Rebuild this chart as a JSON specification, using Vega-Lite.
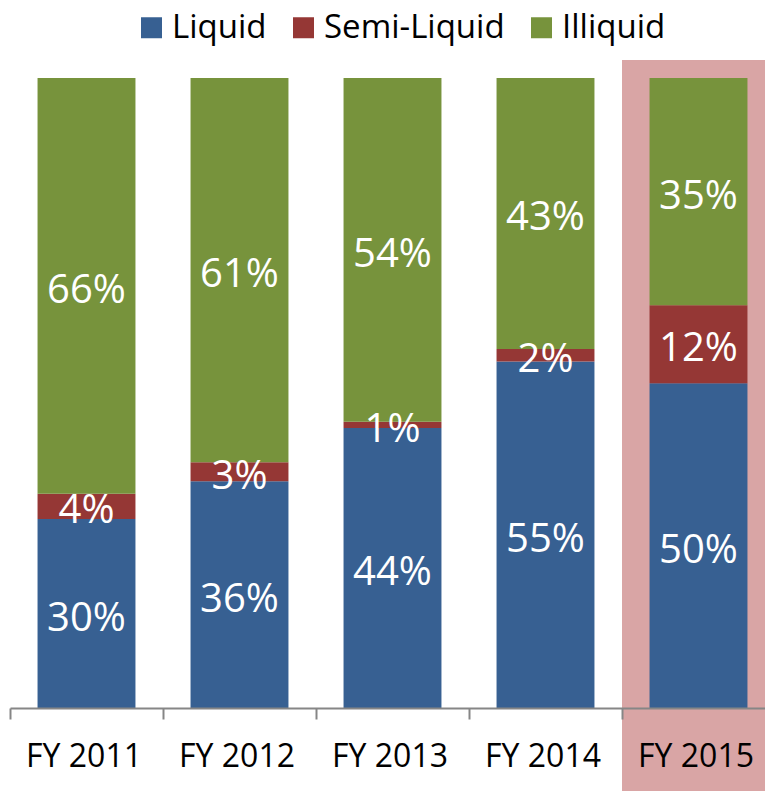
{
  "$schema": "https://vega.github.io/schema/vega-lite/v6.json",
  "width": 755,
  "height": 630,
  "autosize": {"type": "none"},
  "padding": {"left": 10, "top": 78, "right": 0, "bottom": 83},
  "background": "white",
  "config": {
    "font": "Open Sans",
    "view": {"stroke": null},
    "legend": {
      "orient": "none",
      "legendX": 125,
      "legendY": -67,
      "direction": "horizontal",
      "symbolType": "square",
      "symbolSize": 441,
      "symbolStrokeWidth": 0,
      "labelFontSize": 33,
      "labelFont": "Open Sans",
      "labelColor": "black",
      "labelOffset": 4,
      "columnPadding": 20,
      "labelLimit": 400,
      "padding": 0
    }
  },
  "data": {
    "values": [
      {"year": "FY 2011", "type": "Liquid", "value": 0.30},
      {"year": "FY 2011", "type": "Semi-Liquid", "value": 0.04},
      {"year": "FY 2011", "type": "Illiquid", "value": 0.66},
      {"year": "FY 2012", "type": "Liquid", "value": 0.36},
      {"year": "FY 2012", "type": "Semi-Liquid", "value": 0.03},
      {"year": "FY 2012", "type": "Illiquid", "value": 0.61},
      {"year": "FY 2013", "type": "Liquid", "value": 0.44},
      {"year": "FY 2013", "type": "Semi-Liquid", "value": 0.01},
      {"year": "FY 2013", "type": "Illiquid", "value": 0.54},
      {"year": "FY 2014", "type": "Liquid", "value": 0.55},
      {"year": "FY 2014", "type": "Semi-Liquid", "value": 0.02},
      {"year": "FY 2014", "type": "Illiquid", "value": 0.43},
      {"year": "FY 2015", "type": "Liquid", "value": 0.50},
      {"year": "FY 2015", "type": "Semi-Liquid", "value": 0.12},
      {"year": "FY 2015", "type": "Illiquid", "value": 0.35}
    ]
  },
  "transform": [
    {"window": [{"op": "row_number", "as": "k"}], "groupby": ["year"]}
  ],
  "layer": [
    {
      "data": {"values": [{"highlight": "FY 2015"}]},
      "transform": [],
      "mark": {"type": "bar", "color": "#d9a5a5", "width": {"band": 1}},
      "encoding": {
        "x": {"field": "highlight", "type": "nominal", "title": null,
              "scale": {"domain": ["FY 2011", "FY 2012", "FY 2013", "FY 2014", "FY 2015"], "range": [0, 765], "paddingInner": 0, "paddingOuter": 0}},
        "y": {"datum": 1.0286, "type": "quantitative", "scale": {"domain": [0, 1], "nice": false}, "axis": null},
        "y2": {"datum": -0.14}
      }
    },
    {
      "mark": {"type": "bar", "width": {"band": 0.64}},
      "encoding": {
        "x": {"field": "year", "type": "nominal", "title": null,
              "scale": {"domain": ["FY 2011", "FY 2012", "FY 2013", "FY 2014", "FY 2015"], "range": [0, 765], "paddingInner": 0, "paddingOuter": 0},
              "axis": {"title": null, "bandPosition": 0, "labelOffset": 55.5, "domainColor": "#868686", "domainWidth": 2,
                       "tickColor": "#868686", "tickWidth": 2, "tickSize": 11, "labelFontSize": 32, "labelFont": "Open Sans",
                       "labelColor": "black", "labelBaseline": "alphabetic", "labelPadding": 47, "labelAngle": 0, "zindex": 1}},
        "y": {"field": "value", "type": "quantitative", "stack": "normalize", "scale": {"domain": [0, 1], "nice": false}, "axis": null},
        "order": {"field": "k", "type": "quantitative", "sort": "ascending"},
        "color": {"field": "type", "type": "nominal", "sort": ["Liquid", "Semi-Liquid", "Illiquid"],
                  "scale": {"domain": ["Liquid", "Semi-Liquid", "Illiquid"], "range": ["#376092", "#953735", "#77933c"]},
                  "legend": {"title": null}}
      }
    },
    {
      "mark": {"type": "text", "fontSize": 40, "baseline": "middle", "dy": 5, "font": "Open Sans"},
      "encoding": {
        "x": {"field": "year", "type": "nominal", "title": null,
              "scale": {"domain": ["FY 2011", "FY 2012", "FY 2013", "FY 2014", "FY 2015"], "range": [0, 765], "paddingInner": 0, "paddingOuter": 0}},
        "y": {"field": "value", "type": "quantitative", "stack": "normalize", "bandPosition": 0.5, "scale": {"domain": [0, 1], "nice": false}, "axis": null},
        "order": {"field": "k", "type": "quantitative", "sort": "ascending"},
        "color": {"field": "type", "type": "nominal", "sort": ["Liquid", "Semi-Liquid", "Illiquid"],
                  "scale": {"domain": ["Liquid", "Semi-Liquid", "Illiquid"], "range": ["white", "white", "white"]},
                  "legend": null},
        "text": {"field": "value", "type": "quantitative", "format": ".0%"}
      }
    }
  ],
  "resolve": {"scale": {"color": "independent"}, "legend": {"color": "independent"}}
}
